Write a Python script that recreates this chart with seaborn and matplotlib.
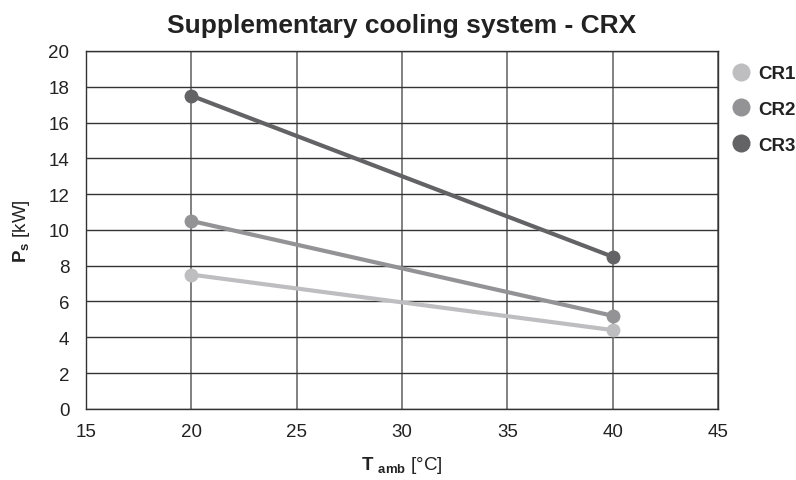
import matplotlib
matplotlib.use("Agg")
import matplotlib.pyplot as plt
import pandas as pd
import seaborn as sns

# data
t_amb = [20, 40]
cr1 = [7.5, 4.4]
cr2 = [10.5, 5.2]
cr3 = [17.5, 8.5]
series_names = ["CR1", "CR2", "CR3"]
colors = ["#bebec1", "#939396", "#636366"]

df = pd.DataFrame({
    "T": t_amb * 3,
    "P": cr1 + cr2 + cr3,
    "series": [n for n in series_names for _ in t_amb],
})

sns.set_style("white")
plt.rcParams["font.family"] = ["Liberation Sans", "DejaVu Sans"]
plt.rcParams["mathtext.fontset"] = "custom"
plt.rcParams["mathtext.bf"] = "Liberation Sans:bold"
plt.rcParams["mathtext.rm"] = "Liberation Sans"

fig = plt.figure(figsize=(7.96, 4.81), dpi=100)
ax = fig.add_axes([0.108, 0.148, 0.794, 0.744])

sns.lineplot(
    data=df,
    x="T",
    y="P",
    hue="series",
    palette=colors,
    marker="o",
    markersize=10,
    markeredgewidth=0,
    linewidth=3,
    ax=ax,
    zorder=3,
)

ax.set_xlim(15, 45)
ax.set_ylim(0, 20)
ax.set_xticks(range(15, 50, 5))
ax.set_yticks(range(0, 22, 2))
ax.tick_params(labelsize=13.5, length=0, colors="#222222")
ax.tick_params(axis="x", pad=10)
ax.tick_params(axis="y", pad=12)

ax.grid(True, axis="y", color="#333333", linewidth=1)
ax.grid(True, axis="x", color="#777777", linewidth=1.3)
ax.set_axisbelow(True)
for s in ax.spines.values():
    s.set_color("#333333")
    s.set_linewidth(1)

ax.set_xlabel(r"$\mathbf{T}$ $\mathbf{_{amb}}$ [°C]", fontsize=13.5, labelpad=10, color="#222222")
ax.set_ylabel(r"$\mathbf{P}$$\mathbf{_{s}}$ [kW]", fontsize=13.5, labelpad=12, color="#222222")
ax.set_title("Supplementary cooling system - CRX", fontsize=19, fontweight="bold", pad=14, color="#222222")

handles, labels = ax.get_legend_handles_labels()
for h in handles:
    h.set_linestyle("none")
    h.set_markersize(13)
leg = ax.legend(
    handles, labels,
    loc="upper left",
    bbox_to_anchor=(1.0, 1.0),
    borderaxespad=0,
    borderpad=0.75,
    frameon=False,
    handlelength=1.0,
    handletextpad=0.4,
    labelspacing=1.0,
    prop={"weight": "bold", "size": 13.5},
)
for t in leg.get_texts():
    t.set_color("#222222")

fig.savefig("out.png", dpi=100)
